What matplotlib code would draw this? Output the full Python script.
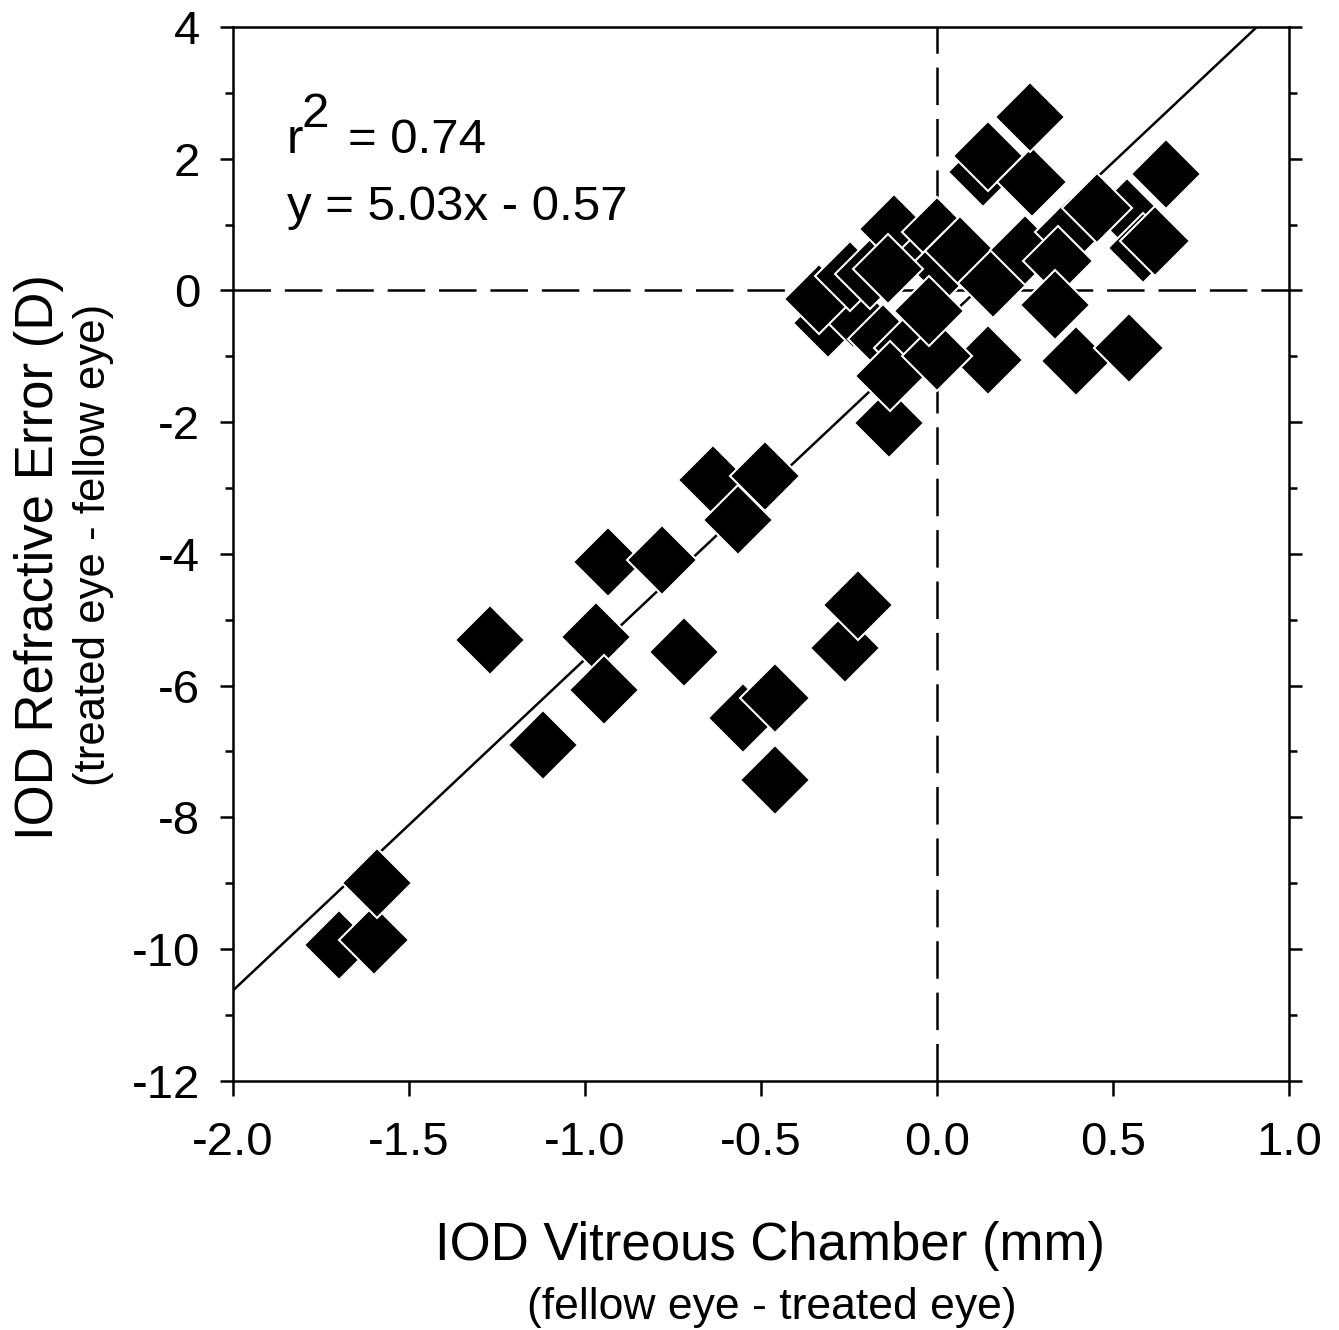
import matplotlib
matplotlib.use("Agg")
import matplotlib.pyplot as plt
import numpy as np
from matplotlib.ticker import MultipleLocator, FixedLocator

plt.rcParams['font.family'] = ['Liberation Sans', 'DejaVu Sans']
plt.rcParams['lines.scale_dashes'] = False
plt.rcParams['axes.unicode_minus'] = False

# ---- data ----
iod_vitreous = [-1.70, -1.60, -1.59, -1.27, -1.12, -0.97, -0.945, -0.935, -0.78, -0.72,
                -0.635, -0.565, -0.49, -0.55, -0.46, -0.46, -0.26, -0.225, -0.135,
                0.145, 0.395, 0.545, 0.65, 0.13, 0.145, 0.27, 0.265,
                -0.309, -0.24, -0.334, -0.247, -0.19, -0.123, -0.154, -0.08, -0.134,
                0.0, -0.01, 0.0, 0.02, -0.022, 0.065, 0.16, 0.25, 0.378, 0.345, 0.335,
                0.54, 0.454, 0.585, 0.62, -0.138]
iod_refraction = [-9.94, -9.86, -9.00, -5.31, -6.90, -5.26, -6.07, -4.13, -4.09, -5.49,
                  -2.88, -3.49, -2.82, -6.49, -6.19, -7.43, -5.43, -4.78, -2.01,
                  -1.06, -1.07, -0.88, 1.77, 1.80, 2.04, 1.65, 2.63,
                  -0.50, -0.35, -0.135, 0.22, 0.25, 0.93, -0.74, -0.88, -1.30,
                  -1.00, 0.59, 0.88, 0.35, -0.31, 0.60, 0.12, 0.61, 0.89, 0.44, -0.22,
                  1.17, 1.25, 0.65, 0.75, 0.32]
slope, intercept = 5.03, -0.57
x_ticks = [-2.0, -1.5, -1.0, -0.5, 0.0, 0.5, 1.0]
x_ticklabels = ['-2.0', '-1.5', '-1.0', '-0.5', '0.0', '0.5', '1.0']
y_ticks = [-12, -10, -8, -6, -4, -2, 0, 2, 4]

W, H = 1339, 1330
fig = plt.figure(figsize=(W / 100, H / 100), dpi=100)
ax = fig.add_axes([233 / W, 1 - 1080.7 / H, (1289 - 233) / W, (1080.7 - 27) / H])

ax.set_xlim(-2.0, 1.0)
ax.set_ylim(-12, 4)

# zero lines
ax.axhline(0, color='black', lw=1.8, dashes=(27, 10), zorder=1)
ax.axvline(0, color='black', lw=1.8, dashes=(27, 10), zorder=1)

# regression line
xl = np.array([-2.0, 1.0])
ax.plot(xl, slope * xl + intercept, color='black', lw=1.8, zorder=2)

ax.plot(iod_vitreous, iod_refraction, linestyle='none', marker='D', markersize=35.5,
        markerfacecolor='black', markeredgecolor='white', markeredgewidth=1.5, zorder=3)

for s in ax.spines.values():
    s.set_linewidth(1.8)
ax.spines['top'].set_zorder(5)

ax.xaxis.set_major_locator(FixedLocator(x_ticks))
ax.set_xticklabels(x_ticklabels)
ax.yaxis.set_major_locator(FixedLocator(y_ticks))
ax.yaxis.set_minor_locator(MultipleLocator(1))
ax.tick_params(axis='x', which='major', direction='out', length=11, width=1.8,
               labelsize=34, pad=18, top=False)
ax.tick_params(axis='y', which='major', direction='out', length=9.5, width=1.8,
               labelsize=34, pad=14, left=True, right=True)
ax.tick_params(axis='y', which='minor', direction='out', length=6, width=1.8,
               left=True, right=True)

def fx(px):
    return px / W

def fy(py):
    return 1 - py / H

# annotation text
fig.text(fx(287), fy(153), 'r', fontsize=35.5, va='baseline', ha='left')
fig.text(fx(302), fy(127), '2', fontsize=35.5, va='baseline', ha='left')
fig.text(fx(348), fy(153), '= 0.74', fontsize=35.5, va='baseline', ha='left')
fig.text(fx(287), fy(220), 'y = 5.03x - 0.57', fontsize=35.5, va='baseline', ha='left')

# axis labels
fig.text(fx(770), fy(1260), 'IOD Vitreous Chamber (mm)', fontsize=38,
         ha='center', va='baseline')
fig.text(fx(772), fy(1319), '(fellow eye - treated eye)', fontsize=32,
         ha='center', va='baseline')
fig.text(fx(39), fy(557), 'IOD Refractive Error (D)', fontsize=38,
         ha='center', va='center', rotation=90)
fig.text(fx(94), fy(545), '(treated eye - fellow eye)', fontsize=31.5,
         ha='center', va='center', rotation=90)

fig.savefig('out.png', dpi=100)
